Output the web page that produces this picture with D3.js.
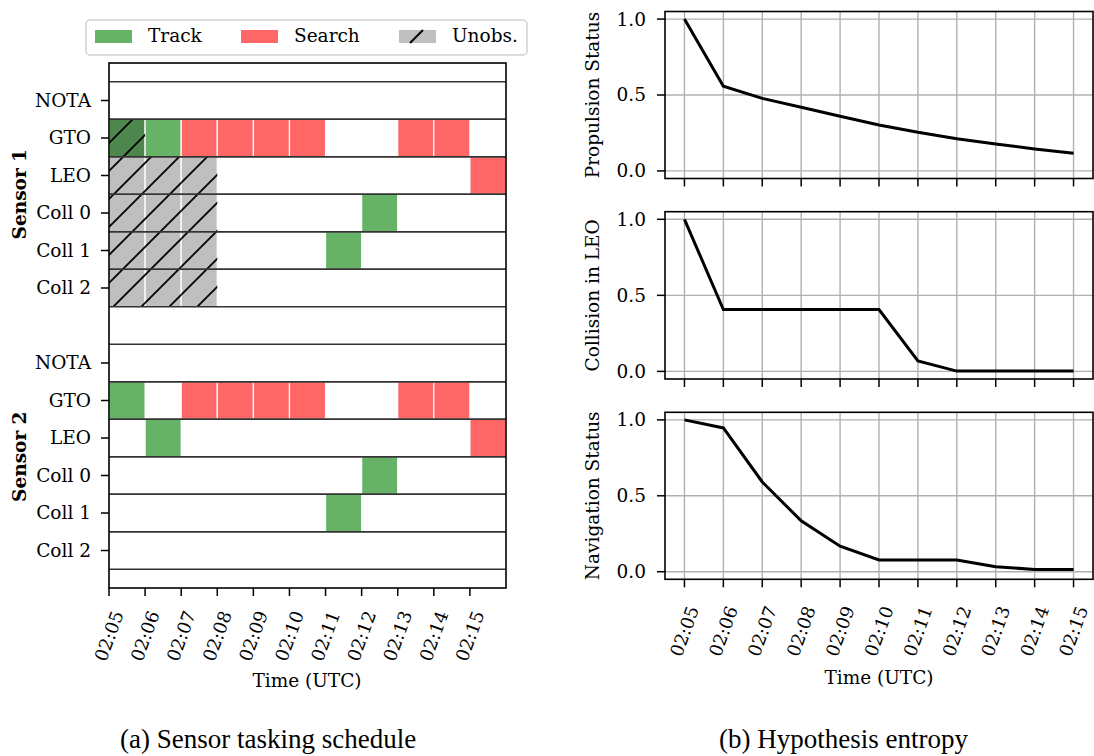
<!DOCTYPE html>
<html>
<head>
<meta charset="utf-8">
<script src="https://cdn.jsdelivr.net/npm/d3@7"></script>
<style>
  body { margin: 0; background: #fff; }
  svg text.chart { font-family: "DejaVu Serif", serif; fill: #000; }
</style>
</head>
<body>
<script>
// minutes on the x axis
var times = ["02:05","02:06","02:07","02:08","02:09","02:10","02:11","02:12","02:13","02:14","02:15"];
var rowLabels = ["NOTA", "GTO", "LEO", "Coll 0", "Coll 1", "Coll 2"];
var sensorNames = ["Sensor 1", "Sensor 2"];

// tasking codes per minute: T = track, S = search, U = unobserved, TU = track while unobserved
var sensor1 = [
  ["","","","","","","","","","",""],
  ["TU","T","S","S","S","S","","","S","S",""],
  ["U","U","U","","","","","","","","S"],
  ["U","U","U","","","","","T","","",""],
  ["U","U","U","","","","T","","","",""],
  ["U","U","U","","","","","","","",""]
];
var sensor2 = [
  ["","","","","","","","","","",""],
  ["T","","S","S","S","S","","","S","S",""],
  ["","T","","","","","","","","","S"],
  ["","","","","","","","T","","",""],
  ["","","","","","","T","","","",""],
  ["","","","","","","","","","",""]
];

// hypothesis entropy
var propulsion = [1.0, 0.558, 0.478, 0.419, 0.360, 0.303, 0.254, 0.212, 0.177, 0.145, 0.116];
var collision  = [1.0, 0.407, 0.407, 0.407, 0.407, 0.407, 0.069, 0.002, 0.002, 0.002, 0.002];
var navigation = [1.0, 0.947, 0.591, 0.335, 0.168, 0.077, 0.077, 0.077, 0.033, 0.015, 0.015];
var entropyLabels = ["Propulsion Status", "Collision in LEO", "Navigation Status"];

var legendNames = ["Track", "Search", "Unobs."];

var W = 1094, H = 756;
var FS = 18.5;
var FSX = 18;   // rotated time labels
var green = "#66b266", red = "#ff6666", grey = "#bfbfbf", darkGreen = "#4e874e";

var parseT = function(s) {
  var p = s.split(":");
  return new Date(Date.UTC(2000, 0, 1, +p[0], +p[1]));
};
var fmt = d3.utcFormat("%H:%M");
var tDates = times.map(parseT);
var addMin = function(d, m) { return new Date(d.getTime() + m * 60000); };

var svg = d3.select("body").append("svg")
    .attr("width", W)
    .attr("height", H);

var defs = svg.append("defs");
var P = 28;
var hatch = defs.append("pattern")
    .attr("id", "hatch")
    .attr("patternUnits", "userSpaceOnUse")
    .attr("width", P)
    .attr("height", P);
hatch.append("path")
    .attr("d", "M0," + P + "L" + P + ",0M-5,5L5,-5M" + (P - 5) + "," + (P + 5) + "L" + (P + 5) + "," + (P - 5))
    .attr("stroke", "#000")
    .attr("stroke-width", 1.8);

// ---------- left: tasking schedule ----------
var L = {x0: 109, x1: 506, y0: 63, y1: 588};
var x = d3.scaleUtc()
    .domain([tDates[0], addMin(tDates[tDates.length - 1], 1)])
    .range([L.x0, L.x1]);
var y = d3.scaleLinear().domain([-1, 13]).range([L.y0, L.y1]);

var left = svg.append("g");

var rows = [];
sensor1.forEach(function(r, i) { rows.push({idx: i, label: rowLabels[i], codes: r}); });
sensor2.forEach(function(r, i) { rows.push({idx: i + 7, label: rowLabels[i], codes: r}); });

var cells = [];
rows.forEach(function(r) {
  r.codes.forEach(function(c, j) {
    if (c) cells.push({row: r.idx, t: tDates[j], code: c});
  });
});

function cellFill(c) {
  if (c === "T") return green;
  if (c === "S") return red;
  if (c === "U") return grey;
  return darkGreen;
}

left.selectAll("rect.cell")
  .data(cells)
  .enter().append("rect")
    .attr("class", "cell")
    .attr("x", function(d) { return x(d.t); })
    .attr("y", function(d) { return y(d.row - 0.5); })
    .attr("width", function(d) { return x(addMin(d.t, 1)) - x(d.t); })
    .attr("height", function(d) { return y(d.row + 0.5) - y(d.row - 0.5); })
    .style("fill", function(d) { return cellFill(d.code); })
    .style("stroke", "#fff")
    .style("stroke-width", 1.2);

left.selectAll("rect.hatch")
  .data(cells.filter(function(d) { return d.code.indexOf("U") >= 0; }))
  .enter().append("rect")
    .attr("class", "hatch")
    .attr("x", function(d) { return x(d.t); })
    .attr("y", function(d) { return y(d.row - 0.5); })
    .attr("width", function(d) { return x(addMin(d.t, 1)) - x(d.t); })
    .attr("height", function(d) { return y(d.row + 0.5) - y(d.row - 0.5); })
    .style("fill", "url(#hatch)");

// row borders
var borders = [];
rows.forEach(function(r) { borders.push(r.idx - 0.5, r.idx + 0.5); });
left.selectAll("line.row")
  .data(borders)
  .enter().append("line")
    .attr("class", "row")
    .attr("x1", L.x0).attr("x2", L.x1)
    .attr("y1", function(d) { return y(d); })
    .attr("y2", function(d) { return y(d); })
    .style("stroke", "#333")
    .style("stroke-width", 1.3);

left.append("rect")
    .attr("x", L.x0).attr("y", L.y0)
    .attr("width", L.x1 - L.x0).attr("height", L.y1 - L.y0)
    .style("fill", "none").style("stroke", "#000").style("stroke-width", 1.6);

// y ticks
var yt = left.selectAll("g.ytick").data(rows).enter().append("g").attr("class", "ytick");
yt.append("line")
    .attr("x1", L.x0 - 8).attr("x2", L.x0)
    .attr("y1", function(d) { return y(d.idx); })
    .attr("y2", function(d) { return y(d.idx); })
    .style("stroke", "#000").style("stroke-width", 1.5);
yt.append("text")
    .attr("class", "chart")
    .attr("x", L.x0 - 18)
    .attr("y", function(d) { return y(d.idx); })
    .attr("dy", "0.35em")
    .attr("text-anchor", "end")
    .style("font-size", FS + "px")
    .text(function(d) { return d.label; });

sensorNames.forEach(function(s, i) {
  var cy = y(i * 7 + 2.5);
  left.append("text")
      .attr("class", "chart")
      .attr("transform", "translate(20," + cy + ") rotate(-90)")
      .attr("text-anchor", "middle")
      .attr("dy", "0.35em")
      .style("font-size", FS + "px")
      .style("font-weight", "bold")
      .text(s);
});

// x axis ticks and rotated labels
function xTicks(g, sc, yAxis, withLabels, labelOff) {
  var t = g.selectAll("g.xtick").data(tDates).enter().append("g").attr("class", "xtick");
  t.append("line")
      .attr("x1", function(d) { return sc(d); })
      .attr("x2", function(d) { return sc(d); })
      .attr("y1", yAxis).attr("y2", yAxis + 8)
      .style("stroke", "#000").style("stroke-width", 1.5);
  if (withLabels) {
    t.append("text")
        .attr("class", "chart")
        .attr("transform", function(d) { return "translate(" + sc(d) + "," + (yAxis + labelOff) + ") rotate(-70)"; })
        .attr("text-anchor", "middle")
        .attr("dy", "0.35em")
        .style("font-size", FSX + "px")
        .text(function(d) { return fmt(d); });
  }
}
xTicks(left, x, L.y1, true, 48);

left.append("text")
    .attr("class", "chart")
    .attr("x", 307).attr("y", 687)
    .attr("text-anchor", "middle")
    .style("font-size", FS + "px")
    .text("Time (UTC)");

// legend
var lg = svg.append("g");
lg.append("rect")
    .attr("x", 86).attr("y", 20).attr("width", 441).attr("height", 35)
    .attr("rx", 4)
    .style("fill", "#fff").style("stroke", "#d0d0d0").style("stroke-width", 1.5);
var legX = [95, 241, 399];
var legFill = [green, red, grey];
legendNames.forEach(function(n, i) {
  lg.append("rect")
      .attr("x", legX[i]).attr("y", 30).attr("width", 37).attr("height", 13)
      .style("fill", legFill[i]);
  if (i === 2) {
    lg.append("line")
        .attr("x1", legX[i] + 11).attr("y1", 43)
        .attr("x2", legX[i] + 24).attr("y2", 30)
        .style("stroke", "#000").style("stroke-width", 2);
  }
  lg.append("text")
      .attr("class", "chart")
      .attr("x", legX[i] + 53).attr("y", 42)
      .style("font-size", FS + "px")
      .text(n);
});

// ---------- right: hypothesis entropy ----------
var R = {x0: 665, x1: 1093};
var panels = [
  {top: 11.5, bot: 178.5, values: propulsion, label: entropyLabels[0]},
  {top: 211.7, bot: 379, values: collision, label: entropyLabels[1]},
  {top: 412.3, bot: 579.3, values: navigation, label: entropyLabels[2]}
];
var xr = d3.scaleUtc()
    .domain([addMin(tDates[0], -0.5), addMin(tDates[tDates.length - 1], 0.5)])
    .range([R.x0, R.x1]);

panels.forEach(function(p, pi) {
  var g = svg.append("g");
  var yr = d3.scaleLinear().domain([-0.05, 1.05]).range([p.bot, p.top]);
  var yTicks = [0, 0.5, 1];

  g.selectAll("line.vg").data(tDates).enter().append("line")
      .attr("x1", function(d) { return xr(d); }).attr("x2", function(d) { return xr(d); })
      .attr("y1", p.top).attr("y2", p.bot)
      .style("stroke", "#b0b0b0").style("stroke-width", 1.4);
  g.selectAll("line.hg").data(yTicks).enter().append("line")
      .attr("x1", R.x0).attr("x2", R.x1)
      .attr("y1", function(d) { return yr(d); }).attr("y2", function(d) { return yr(d); })
      .style("stroke", "#b0b0b0").style("stroke-width", 1.4);

  var line = d3.line()
      .x(function(d, i) { return xr(tDates[i]); })
      .y(function(d) { return yr(d); });
  g.append("path")
      .datum(p.values)
      .attr("d", line)
      .style("fill", "none").style("stroke", "#000").style("stroke-width", 3);

  g.append("rect")
      .attr("x", R.x0).attr("y", p.top)
      .attr("width", R.x1 - R.x0).attr("height", p.bot - p.top)
      .style("fill", "none").style("stroke", "#000").style("stroke-width", 1.6);

  g.selectAll("line.yt").data(yTicks).enter().append("line")
      .attr("x1", R.x0 - 8).attr("x2", R.x0)
      .attr("y1", function(d) { return yr(d); }).attr("y2", function(d) { return yr(d); })
      .style("stroke", "#000").style("stroke-width", 1.5);
  g.selectAll("text.yt").data(yTicks).enter().append("text")
      .attr("class", "chart")
      .attr("x", R.x0 - 19)
      .attr("y", function(d) { return yr(d); })
      .attr("dy", "0.35em")
      .attr("text-anchor", "end")
      .style("font-size", FS + "px")
      .text(function(d) { return d3.format(".1f")(d); });

  g.append("text")
      .attr("class", "chart")
      .attr("transform", "translate(593," + ((p.top + p.bot) / 2) + ") rotate(-90)")
      .attr("text-anchor", "middle")
      .attr("dy", "0.35em")
      .style("font-size", FS + "px")
      .text(p.label);

  xTicks(g, xr, p.bot, pi === panels.length - 1, 52);
});

svg.append("text")
    .attr("class", "chart")
    .attr("x", 879).attr("y", 684)
    .attr("text-anchor", "middle")
    .style("font-size", FS + "px")
    .text("Time (UTC)");

// captions
svg.append("text")
    .attr("x", 120).attr("y", 748)
    .style("font-family", "'Liberation Serif', serif")
    .style("font-size", "27px")
    .text("(a)  Sensor tasking schedule");
svg.append("text")
    .attr("x", 719).attr("y", 748)
    .style("font-family", "'Liberation Serif', serif")
    .style("font-size", "27px")
    .text("(b)  Hypothesis entropy");
</script>
</body>
</html>
